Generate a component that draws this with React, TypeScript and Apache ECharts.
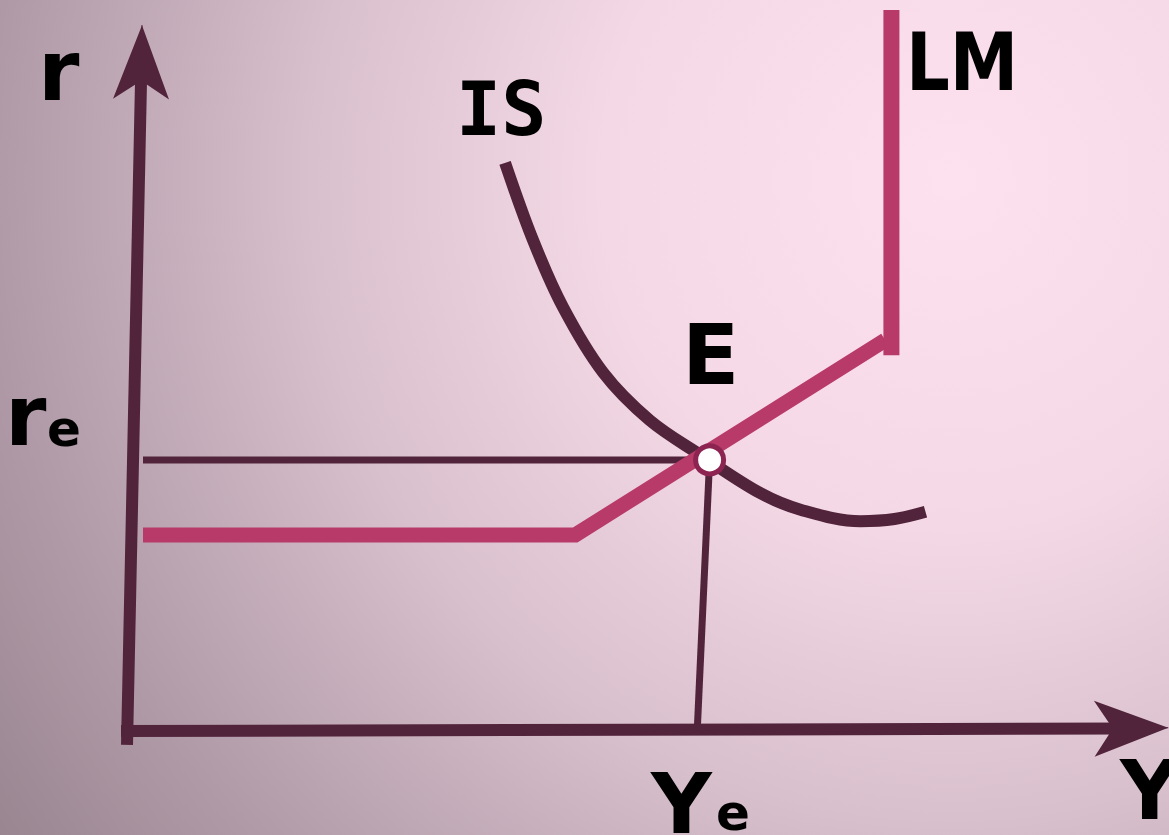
import { useEffect, useRef } from "react";
import * as echarts from "echarts";

// Data in economic units (x: output Y, y: interest rate r)
const X_MIN = -2;
const X_MAX = 100.8;
const Y_MIN = -3;
const Y_MAX = 100;

// axis shafts and arrow heads (shaft end, arrow tip)
const yAxisShaft: number[][] = [[0, -1.94], [1.38, 91.7]];
const yAxisHead: number[][] = [[1.38, 90.0], [1.45, 97.9]];
const xAxisShaft: number[][] = [[-0.58, 0], [96.6, 0.35]];
const xAxisHead: number[][] = [[95.0, 0.35], [100.8, 0.45]];

const equilibrium: number[] = [56.4, 37.6];
const rateGuide: number[][] = [[1.55, 37.6], [54.5, 37.6]];
const outputGuide: number[][] = [[56.4, 37.6], [55.2, 0]];

const lmLower: number[][] = [[1.55, 27.2], [43.4, 27.2], [73.4, 54.2]];
const lmVertical: number[][] = [[74.0, 52.1], [74.0, 100]];

const isCurve: number[][] = [
  [36.6, 78.8],
  [39.3, 68.1],
  [42.2, 58.8],
  [46.1, 49.7],
  [50.6, 43.1],
  [55.5, 38.3],
  [61.3, 33.0],
  [65.2, 30.7],
  [71.0, 29.1],
  [74.3, 29.4],
  [77.3, 30.4],
];

const labels = {
  rAxis: "r",
  rEq: "r",
  rSub: "e",
  yAxis: "Y",
  yEq: "Y",
  ySub: "e",
  is: "IS",
  lm: "LM",
  eq: "E",
};

const DARK = "#52243c";
const PINK = "#b83a68";
const RING = "#8c2350";

export default function App() {
  const ref = useRef<HTMLDivElement>(null);

  useEffect(() => {
    if (!ref.current) return;
    const chart = echarts.init(ref.current, undefined, { renderer: "svg" });
    const sans = "'DejaVu Sans', Verdana, sans-serif";
    const mono = "'DejaVu Sans Mono', monospace";
    const txt = (x: number, y: number, text: string, font: string, extra: any = {}) => ({
      type: "text",
      x,
      y,
      z: 100,
      silent: true,
      style: { text, font, fill: "#000", align: "left", verticalAlign: "middle" },
      ...extra,
    });
    const shaft = (seg: number[][]) => [
      { coord: seg[0], symbol: "none", lineStyle: { width: 12, color: DARK, type: "solid" } },
      { coord: seg[1], symbol: "none" },
    ];
    const head = (seg: number[][]) => [
      { coord: seg[0], symbol: "none", lineStyle: { width: 1, color: DARK, type: "solid" } },
      { coord: seg[1], symbol: "arrow" },
    ];

    const option: any = {
      animation: false,
      grid: { left: 106.34, right: 0.74, top: 10, bottom: 82.37 },
      xAxis: { type: "value", min: X_MIN, max: X_MAX, show: false },
      yAxis: { type: "value", min: Y_MIN, max: Y_MAX, show: false },
      graphic: [
        {
          type: "rect",
          z: -100,
          silent: true,
          shape: { x: 0, y: 0, width: 1169, height: 835 },
          style: {
            fill: new echarts.graphic.RadialGradient(
              950,
              180,
              1160,
              [
                { offset: 0, color: "#fde1ee" },
                { offset: 0.3, color: "#f4d8e5" },
                { offset: 0.55, color: "#d8c0cc" },
                { offset: 0.83, color: "#af99a6" },
                { offset: 1, color: "#988590" },
              ],
              true
            ),
          },
        },
        txt(38, 71, labels.rAxis, `bold 84px ${sans}`),
        txt(5, 416, labels.rEq, `bold 84px ${sans}`),
        txt(47, 429, labels.rSub, `bold 50px ${sans}`),
        txt(651, 804, labels.yEq, `bold 84px ${sans}`),
        txt(716, 813, labels.ySub, `bold 50px ${sans}`),
        txt(1120, 790, labels.yAxis, `bold 82px ${sans}`),
        txt(456, 109, labels.is, `bold 75px ${mono}`),
        txt(906, 63, labels.lm, `bold 80px ${sans}`, { scaleX: 0.86 }),
        txt(682, 355, labels.eq, `bold 84px ${sans}`),
      ],
      series: [
        {
          type: "line",
          data: [],
          silent: true,
          markLine: {
            silent: true,
            symbol: ["none", "arrow"],
            symbolSize: [42, 74],
            label: { show: false },
            lineStyle: { type: "solid", width: 12, color: DARK },
            itemStyle: { color: DARK },
            emphasis: { disabled: true },
            data: [shaft(yAxisShaft), head(yAxisHead), shaft(xAxisShaft), head(xAxisHead)],
          },
        },
        {
          type: "line",
          data: rateGuide,
          showSymbol: false,
          silent: true,
          lineStyle: { width: 7, color: DARK, cap: "butt" },
        },
        {
          type: "line",
          data: outputGuide,
          showSymbol: false,
          silent: true,
          lineStyle: { width: 7, color: DARK, cap: "butt" },
        },
        {
          type: "line",
          data: isCurve,
          smooth: 0.35,
          showSymbol: false,
          silent: true,
          lineStyle: { width: 12, color: DARK, cap: "butt" },
        },
        {
          type: "line",
          data: lmLower,
          showSymbol: false,
          silent: true,
          lineStyle: { width: 15, color: PINK, cap: "butt", join: "miter" },
        },
        {
          type: "line",
          data: lmVertical,
          showSymbol: false,
          silent: true,
          lineStyle: { width: 16, color: PINK, cap: "butt" },
        },
        {
          type: "scatter",
          data: [equilibrium],
          symbolSize: 28,
          silent: true,
          z: 10,
          itemStyle: { color: "#ffffff", borderColor: RING, borderWidth: 5, opacity: 1 },
        },
      ],
    };
    chart.setOption(option);
    return () => chart.dispose();
  }, []);

  return (
    <div
      ref={ref}
      style={{ position: "fixed", left: 0, top: 0, width: 1169, height: 835 }}
    />
  );
}
